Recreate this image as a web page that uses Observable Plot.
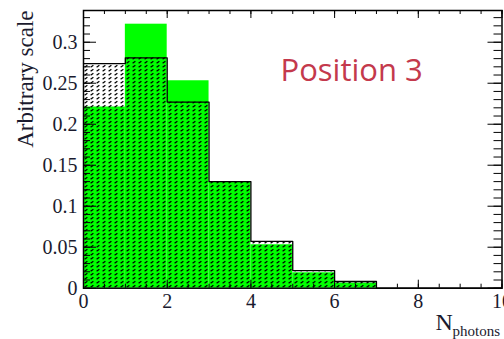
<!DOCTYPE html>
<html>
<head>
<meta charset="utf-8">
<script src="https://cdn.jsdelivr.net/npm/d3@7"></script>
<script src="https://cdn.jsdelivr.net/npm/@observablehq/plot@0.6"></script>
<style>
  html, body { margin: 0; padding: 0; background: #fff; }
  #chart { width: 504px; height: 339px; overflow: hidden; }
</style>
</head>
<body>
<div id="chart"></div>
<script>
// ---- data ----
const binLow = [0, 1, 2, 3, 4, 5, 6, 7, 8, 9];
const binHigh = [1, 2, 3, 4, 5, 6, 7, 8, 9, 10];
const hatchedValues = [0.274, 0.281, 0.227, 0.130, 0.057, 0.0215, 0.0082, 0, 0, 0];
const greenValues   = [0.221, 0.322, 0.253, 0.129, 0.053, 0.0188, 0.0062, 0, 0, 0];
const xMajorTicks = [0, 2, 4, 6, 8, 10];
const yMajorTicks = [0, 0.05, 0.1, 0.15, 0.2, 0.25, 0.3];
const xMinorTicks = d3.range(0, 10.001, 0.5);
const yMinorTicks = d3.range(0, 0.3351, 0.01);
const yTitle = "Arbitrary scale";
const xTitleMain = "N";
const xTitleSub = "photons";
const annotation = "Position 3";

// ---- layout ----
const W = 504, H = 339;
const mL = 83, mR = 2.5, mT = 10, mB = 51.3;
const innerW = W - mL - mR, innerH = H - mT - mB;
const serif = "Liberation Serif, Times New Roman, serif";
const ink = "#1a1a2e";

const bins = binLow.map((lo, i) => ({lo, hi: binHigh[i], hatch: hatchedValues[i], green: greenValues[i]}));
const stepPts = bins.map(b => ({x: b.lo, y: b.hatch})).concat([{x: binHigh[binHigh.length - 1], y: hatchedValues[hatchedValues.length - 1]}]);

const fmt = d => String(+d.toFixed(2));

const chart = Plot.plot({
  width: W, height: H,
  marginLeft: mL, marginRight: mR, marginTop: mT, marginBottom: mB,
  style: {background: "#fff", overflow: "visible"},
  x: {domain: [0, 10], axis: null},
  y: {domain: [0, 0.3387], axis: null},
  marks: [
    Plot.rectY(bins, {x1: "lo", x2: "hi", y: "green", fill: "#00ff00"}),
    Plot.rectY(bins, {x1: "lo", x2: "hi", y: "hatch", fill: "url(#hatch)"}),
    Plot.line(stepPts, {x: "x", y: "y", curve: "step-after", stroke: "black", strokeWidth: 1.3}),
    // bottom ticks (inward)
    Plot.tickX(xMinorTicks, {x: d => d, insetTop: innerH - 4, stroke: "black", strokeWidth: 1}),
    Plot.tickX(xMajorTicks, {x: d => d, insetTop: innerH - 8, stroke: "black", strokeWidth: 1}),
    // top ticks
    Plot.tickX(xMinorTicks, {x: d => d, insetBottom: innerH - 4, stroke: "black", strokeWidth: 1}),
    Plot.tickX(xMajorTicks, {x: d => d, insetBottom: innerH - 8, stroke: "black", strokeWidth: 1}),
    // left ticks
    Plot.tickY(yMinorTicks, {y: d => d, insetRight: innerW - 7, stroke: "black", strokeWidth: 1}),
    Plot.tickY(yMajorTicks, {y: d => d, insetRight: innerW - 13, stroke: "black", strokeWidth: 1}),
    // right ticks
    Plot.tickY(yMinorTicks, {y: d => d, insetLeft: innerW - 8, stroke: "black", strokeWidth: 1}),
    Plot.tickY(yMajorTicks, {y: d => d, insetLeft: innerW - 14, stroke: "black", strokeWidth: 1}),
    Plot.frame({stroke: "black", strokeWidth: 1.5}),
    Plot.axisX({ticks: xMajorTicks, tickSize: 0, tickPadding: 6, tickFormat: fmt, fontSize: 20, fontFamily: serif, fill: ink}),
    Plot.axisY({ticks: yMajorTicks, tickSize: 0, tickPadding: 6, tickFormat: fmt, fontSize: 20, fontFamily: serif, fill: ink}),
    Plot.text([yTitle], {frameAnchor: "top-left", dx: -58, dy: 0, rotate: -90, textAnchor: "end", lineAnchor: "middle", fontSize: 23, fontFamily: serif, fill: ink}),
    Plot.text([xTitleMain], {frameAnchor: "bottom-left", dx: 352, dy: 41.5, textAnchor: "start", lineAnchor: "bottom", fontSize: 24, fontFamily: serif, fill: ink}),
    Plot.text([xTitleSub], {frameAnchor: "bottom-left", dx: 369, dy: 47.5, textAnchor: "start", lineAnchor: "bottom", fontSize: 15, fontFamily: serif, fill: ink}),
    Plot.text([annotation], {frameAnchor: "top-left", dx: 280 - mL, dy: 80 - mT, textAnchor: "start", lineAnchor: "bottom", fontSize: 31, fontFamily: "Open Sans, Lato, sans-serif", fill: "#c4394c"})
  ]
});

// hatch pattern definition (short slanted dashes, ROOT-style fill)
const svgNS = "http://www.w3.org/2000/svg";
const defs = document.createElementNS(svgNS, "defs");
defs.innerHTML = `
  <pattern id="hatch" patternUnits="userSpaceOnUse" width="6" height="4">
    <path d="M0.6,3.3 L3.4,1.3" stroke="black" stroke-width="1.3" fill="none"/>
  </pattern>`;
chart.insertBefore(defs, chart.firstChild);
document.getElementById("chart").appendChild(chart);
</script>
</body>
</html>
